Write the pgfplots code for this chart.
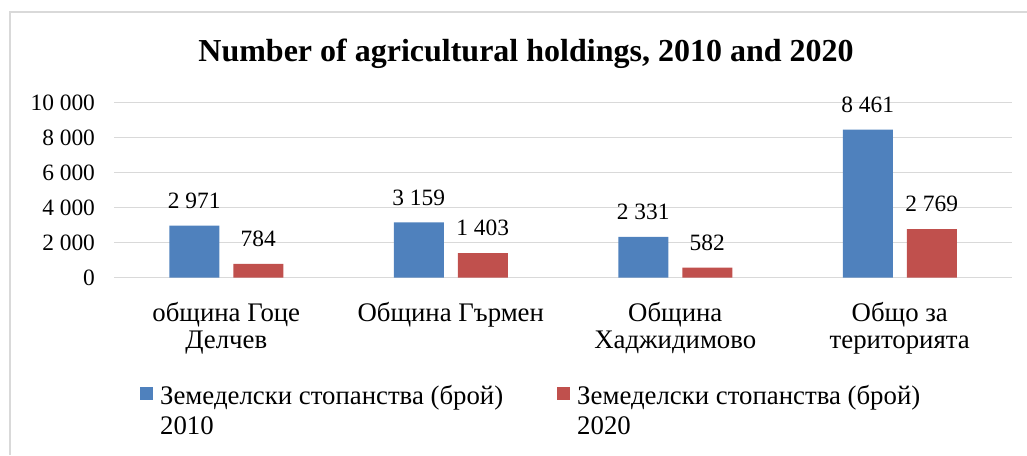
\documentclass[border=0pt]{standalone}
\usepackage{fontspec}
\setmainfont{Liberation Serif}
\usepackage{pgfplots}
\pgfplotsset{compat=1.18}
\definecolor{bblue}{HTML}{4F81BD}
\definecolor{bred}{HTML}{C0504D}
\definecolor{gridc}{HTML}{D9D9D9}
\pgfplotsset{sqlegend/.style={legend image code/.code={\fill[##1,draw=none] (0pt,5.5pt) rectangle (6.5pt,12pt);}}}
\begin{document}
\begin{tikzpicture}
\useasboundingbox (0,0) rectangle (513.5pt,-227.5pt);
\draw[gridc, line width=0.9pt] (5pt,-227.5pt) -- (5pt,-6pt) -- (513.5pt,-6pt);
\node[anchor=base, inner sep=0pt, font=\fontsize{16pt}{19pt}\selectfont\bfseries] at (263pt,-30.85pt) {Number of agricultural holdings, 2010 and 2020};
\begin{axis}[
 at={(57pt,-138.85pt)}, anchor=south west,
 scale only axis, width=449pt, height=87.5pt,
 ybar=7pt, bar width=25pt,
 xmin=-0.5, xmax=3.5, ymin=0, ymax=10000,
 ytick={0,2000,...,10000},
 xtick={0,1,2,3},
 xticklabels={{община Гоце\\Делчев},{Община Гърмен},{Община\\Хаджидимово},{Общо за\\територията}},
 xticklabel style={align=center, font=\fontsize{13.4pt}{13.2pt}\selectfont, yshift=-9pt},
 yticklabel style={font=\fontsize{11.7pt}{14pt}\selectfont, xshift=-6pt},
 scaled y ticks=false,
 /pgf/number format/.cd, 1000 sep={\hspace{0.25em}}, assume math mode=true,
 /pgfplots/.cd,
 axis line style={draw=none},
 major tick length=0pt,
 ymajorgrids, grid style={gridc, line width=0.7pt},
 nodes near coords,
 nodes near coords style={font=\fontsize{11.7pt}{14pt}\selectfont, text=black, yshift=5pt},
 legend style={at={(0.022,-0.567)}, anchor=north west, draw=none, fill=none,
   legend columns=2, cells={align=left}, font=\fontsize{13.4pt}{15pt}\selectfont,
   /tikz/every odd column/.append style={column sep=1.5pt},
   /tikz/every even column/.append style={column sep=25pt}},
 legend cell align=left,
]
\addplot[fill=bblue, draw=none, sqlegend] coordinates {(0,2971) (1,3159) (2,2331) (3,8461)};
\addplot[fill=bred, draw=none, sqlegend] coordinates {(0,784) (1,1403) (2,582) (3,2769)};
\addlegendentry{Земеделски стопанства (брой)\\2010}
\addlegendentry{Земеделски стопанства (брой)\\2020}
\end{axis}
\end{tikzpicture}
\end{document}
